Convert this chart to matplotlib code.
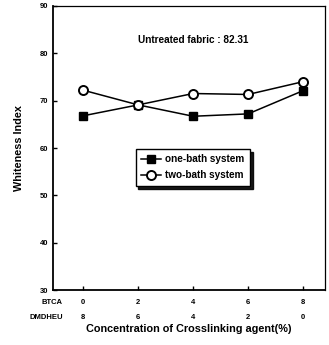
import matplotlib
matplotlib.use("Agg")
import matplotlib.pyplot as plt
from matplotlib.transforms import blended_transform_factory

plt.rcParams['font.family'] = ['Liberation Sans', 'DejaVu Sans']
plt.rcParams['font.weight'] = 'bold'

x = [0, 2, 4, 6, 8]
btca_labels = ['0', '2', '4', '6', '8']
dmdheu_labels = ['8', '6', '4', '2', '0']
one_bath = [66.8, 69.1, 66.7, 67.2, 72.1]
two_bath = [72.2, 69.1, 71.5, 71.3, 74.0]

fig = plt.figure(figsize=(3.29, 3.45), dpi=100)
ax = fig.add_axes([0.161, 0.159, 0.827, 0.824])

ax.plot(x, one_bath, '-s', color='black', lw=1.1, ms=6, mfc='black', mec='black',
        label='one-bath system')
ax.plot(x, two_bath, '-o', color='black', lw=1.1, ms=6.5, mfc='white', mec='black', mew=1.4,
        label='two-bath system')

ax.set_xlim(-1.1, 8.8)
ax.set_ylim(30, 90)
ax.set_yticks(range(30, 91, 10))
ax.set_xticks(x)
ax.set_xticklabels([''] * 5)
ax.tick_params(axis='both', direction='in', length=3, width=1, labelsize=5.5)
for lab in ax.get_yticklabels():
    lab.set_fontweight('bold')
for s in ['left', 'bottom']:
    ax.spines[s].set_linewidth(1.3)
for s in ['top', 'right']:
    ax.spines[s].set_linewidth(0.9)

tr = blended_transform_factory(ax.transData, ax.transAxes)
for xi, a, b in zip(x, btca_labels, dmdheu_labels):
    ax.text(xi, -0.042, a, transform=tr, ha='center', va='center', fontsize=5.5, fontweight='bold')
    ax.text(xi, -0.095, b, transform=tr, ha='center', va='center', fontsize=5.5, fontweight='bold')
ax.text(-0.75, -0.042, 'BTCA', transform=tr, ha='right', va='center', fontsize=5.5, fontweight='bold')
ax.text(-0.75, -0.095, 'DMDHEU', transform=tr, ha='right', va='center', fontsize=5.5, fontweight='bold')

ax.set_xlabel('Concentration of Crosslinking agent(%)', fontsize=7.8, fontweight='bold', labelpad=21)
ax.set_ylabel('Whiteness Index', fontsize=7.8, fontweight='bold', labelpad=11)

ax.text(0.515, 0.88, 'Untreated fabric : 82.31', transform=ax.transAxes, ha='center', va='center',
        fontsize=7.2, fontweight='bold')

leg = ax.legend(loc='upper left', bbox_to_anchor=(0.285, 0.515), fancybox=False,
                shadow={'color': 'black', 'alpha': 0.9},
                edgecolor='black', fontsize=7.2, handlelength=2.0, borderpad=0.55,
                labelspacing=0.6, handletextpad=0.4, framealpha=1)
leg.get_frame().set_linewidth(1.0)
for t in leg.get_texts():
    t.set_fontweight('bold')

fig.savefig('out.png', dpi=100)
